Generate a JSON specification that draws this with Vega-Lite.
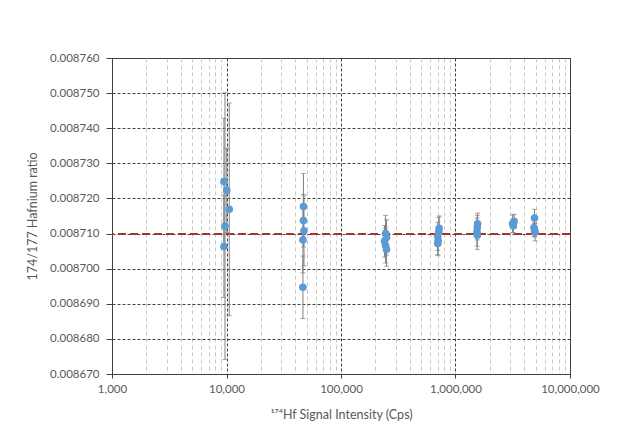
{
  "$schema": "https://vega.github.io/schema/vega-lite/v6.json",
  "autosize": "none",
  "width": 458,
  "height": 316,
  "padding": {"left": 112, "top": 58, "right": 49, "bottom": 61},
  "background": "white",
  "config": {
    "view": {"stroke": "#404040", "strokeWidth": 1},
    "font": "Lato",
    "axis": {"labelFont": "Lato", "titleFont": "Lato", "labelColor": "#595959", "titleColor": "#595959", "labelFontSize": 11.5, "titleFontSize": 12.5, "titleFontWeight": "normal"}
  },
  "data": {"values": [
    {"x": 9500, "ratio": 0.0087248, "lo": 0.0087068, "hi": 0.0087428},
    {"x": 10050, "ratio": 0.0087223, "lo": 0.0087103, "hi": 0.0087343},
    {"x": 10570, "ratio": 0.0087169, "lo": 0.0086866, "hi": 0.0087472},
    {"x": 9700, "ratio": 0.0087121, "lo": 0.0086741, "hi": 0.0087501},
    {"x": 9500, "ratio": 0.0087063, "lo": 0.0086918, "hi": 0.0087208},
    {"x": 47000, "ratio": 0.0087177, "lo": 0.0087083, "hi": 0.0087271},
    {"x": 47000, "ratio": 0.0087137, "lo": 0.0087062, "hi": 0.0087212},
    {"x": 47500, "ratio": 0.0087108, "lo": 0.0087008, "hi": 0.0087208},
    {"x": 46500, "ratio": 0.0087082, "lo": 0.0086988, "hi": 0.0087176},
    {"x": 46500, "ratio": 0.0086947, "lo": 0.0086858, "hi": 0.0087036},
    {"x": 245000, "ratio": 0.00871, "lo": 0.0087048, "hi": 0.0087152},
    {"x": 250000, "ratio": 0.0087089, "lo": 0.0087039, "hi": 0.0087139},
    {"x": 240000, "ratio": 0.0087078, "lo": 0.0087033, "hi": 0.0087123},
    {"x": 245000, "ratio": 0.0087066, "lo": 0.0087016, "hi": 0.0087116},
    {"x": 250000, "ratio": 0.0087055, "lo": 0.0087007, "hi": 0.0087103},
    {"x": 720000, "ratio": 0.0087115, "lo": 0.008708, "hi": 0.008715},
    {"x": 715000, "ratio": 0.0087106, "lo": 0.0087066, "hi": 0.0087146},
    {"x": 700000, "ratio": 0.0087092, "lo": 0.0087052, "hi": 0.0087132},
    {"x": 705000, "ratio": 0.008708, "lo": 0.008704, "hi": 0.008712},
    {"x": 700000, "ratio": 0.0087072, "lo": 0.0087037, "hi": 0.0087107},
    {"x": 1560000, "ratio": 0.0087128, "lo": 0.0087098, "hi": 0.0087158},
    {"x": 1550000, "ratio": 0.0087117, "lo": 0.0087082, "hi": 0.0087152},
    {"x": 1540000, "ratio": 0.0087104, "lo": 0.0087064, "hi": 0.0087144},
    {"x": 1550000, "ratio": 0.0087095, "lo": 0.0087055, "hi": 0.0087135},
    {"x": 3250000, "ratio": 0.0087135, "lo": 0.0087115, "hi": 0.0087155},
    {"x": 3150000, "ratio": 0.0087128, "lo": 0.0087103, "hi": 0.0087153},
    {"x": 3200000, "ratio": 0.0087122, "lo": 0.0087102, "hi": 0.0087142},
    {"x": 4900000, "ratio": 0.0087144, "lo": 0.0087119, "hi": 0.0087169},
    {"x": 4850000, "ratio": 0.0087117, "lo": 0.0087092, "hi": 0.0087142},
    {"x": 4900000, "ratio": 0.008711, "lo": 0.008709, "hi": 0.008713},
    {"x": 4950000, "ratio": 0.0087104, "lo": 0.0087079, "hi": 0.0087129}
  ]},
  "layer": [
    {
      "mark": {"type": "rule", "color": "#A8322E", "strokeDash": [8, 4], "strokeWidth": 1.2},
      "encoding": {
        "y": {"datum": 0.00871, "type": "quantitative"}
      }
    },
    {
      "mark": {"type": "errorbar", "color": "#808080", "thickness": 1, "ticks": {"size": 5, "color": "#808080"}},
      "encoding": {
        "x": {
          "field": "x", "type": "quantitative",
          "scale": {"type": "log", "domain": [1000, 10000000], "nice": false},
          "axis": {
            "title": "¹⁷⁴Hf Signal Intensity (Cps)",
            "titlePadding": 14,
            "tickCount": 100,
            "values": [1000,2000,3000,4000,5000,6000,7000,8000,9000,10000,20000,30000,40000,50000,60000,70000,80000,90000,100000,200000,300000,400000,500000,600000,700000,800000,900000,1000000,2000000,3000000,4000000,5000000,6000000,7000000,8000000,9000000,10000000],
            "labelExpr": "indexof([1000,10000,100000,1000000,10000000], datum.value) >= 0 ? format(datum.value, ',') : ''",
            "grid": true,
            "gridColor": {"condition": {"test": "indexof([1000,10000,100000,1000000,10000000], datum.value) >= 0", "value": "#404040"}, "value": "#c8c8c8"},
            "gridDash": {"condition": {"test": "indexof([1000,10000,100000,1000000,10000000], datum.value) >= 0", "value": [3, 2]}, "value": [4, 3]},
            "tickSize": {"condition": {"test": "indexof([1000,10000,100000,1000000,10000000], datum.value) >= 0", "value": 4}, "value": 0},
            "tickColor": "#404040",
            "domainColor": "#404040",
            "labelPadding": 5,
            "labelFlush": false,
            "labelOverlap": false
          }
        },
        "y": {
          "field": "lo", "type": "quantitative",
          "scale": {"domain": [0.00867, 0.00876], "nice": false, "zero": false},
          "axis": {
            "title": "174/177 Hafnium ratio",
            "tickCount": 20,
            "values": [0.00867,0.00868,0.00869,0.0087,0.00871,0.00872,0.00873,0.00874,0.00875,0.00876],
            "format": ".6f",
            "grid": true,
            "gridColor": "#404040",
            "gridDash": [3, 2],
            "tickSize": 6,
            "tickColor": "#404040",
            "domainColor": "#404040",
            "labelPadding": 7,
            "labelOverlap": false,
            "labelFlush": false,
            "titlePadding": 10
          }
        },
        "y2": {"field": "hi"}
      }
    },
    {
      "mark": {"type": "circle", "color": "#5B9BD5", "opacity": 1, "size": 58},
      "encoding": {
        "x": {"field": "x", "type": "quantitative"},
        "y": {"field": "ratio", "type": "quantitative"}
      }
    }
  ]
}
